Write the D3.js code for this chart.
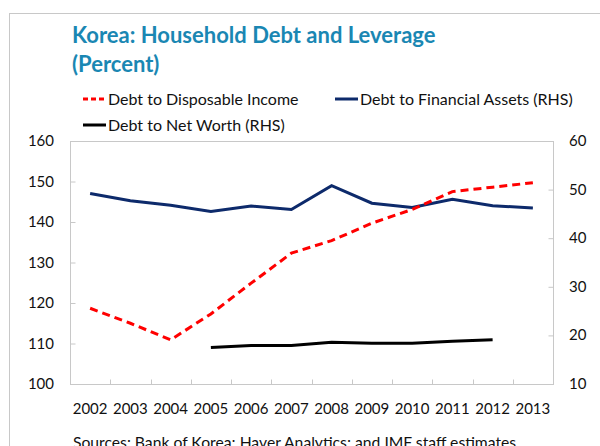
<!DOCTYPE html>
<html>
<head>
<meta charset="utf-8">
<script src="https://cdn.jsdelivr.net/npm/d3@7"></script>
<style>
  body { margin: 0; background: #fff; }
  svg { font-family: Lato, "Open Sans", sans-serif; }
</style>
</head>
<body>
<div id="viz"></div>
<script>
var years = ["2002","2003","2004","2005","2006","2007","2008","2009","2010","2011","2012","2013"];
var disposableIncome = [118.7, 115.0, 110.9, 117.3, 124.9, 132.3, 135.4, 139.7, 143.1, 147.5, 148.6, 149.7];
var financialAssets = [49.2, 47.7, 46.8, 45.5, 46.6, 45.9, 50.8, 47.2, 46.3, 48.0, 46.7, 46.2];
var netWorth = [null, null, null, 17.5, 17.9, 17.9, 18.6, 18.4, 18.4, 18.8, 19.1, null];
var leftTicks = [100, 110, 120, 130, 140, 150, 160];
var rightTicks = [10, 20, 30, 40, 50, 60];

var width = 600, height = 446;
var plot = {left: 70, right: 553, top: 141, bottom: 384};

var svg = d3.select('#viz').append('svg')
  .attr('width', width)
  .attr('height', height);

// outer frame
svg.append('rect')
  .attr('x', 9.5).attr('y', 13.5)
  .attr('width', 600).attr('height', 500)
  .attr('fill', 'none').attr('stroke', '#c8c8c8');

svg.append('text').attr('x', 72).attr('y', 43)
  .attr('fill', '#1a87b3').attr('font-weight', 'bold').attr('font-size', 22)
  .text('Korea: Household Debt and Leverage');
svg.append('text').attr('x', 72).attr('y', 72)
  .attr('fill', '#1a87b3').attr('font-weight', 'bold').attr('font-size', 22)
  .text('(Percent)');

var x = d3.scaleBand().domain(years).range([plot.left, plot.right]);
var yL = d3.scaleLinear().domain([100, 160]).range([plot.bottom, plot.top]);
var yR = d3.scaleLinear().domain([10, 60]).range([plot.bottom, plot.top]);

// plot border
svg.append('rect')
  .attr('x', plot.left + 0.5).attr('y', plot.top + 0.5)
  .attr('width', plot.right - plot.left).attr('height', plot.bottom - plot.top)
  .attr('fill', 'none').attr('stroke', '#c8c8c8');

// x axis ticks (inward)
var xb = svg.append('g').attr('transform', 'translate(0,' + (plot.bottom + 0.5) + ')');
xb.selectAll('line').data(years.slice(1)).join('line')
  .attr('x1', d => Math.round(x(d)) + 0.5).attr('x2', d => Math.round(x(d)) + 0.5)
  .attr('y1', 0).attr('y2', -5).attr('stroke', '#c8c8c8');
xb.selectAll('text').data(years).join('text')
  .attr('x', d => x(d) + x.bandwidth() / 2).attr('y', 29)
  .attr('text-anchor', 'middle').attr('font-size', 15).attr('fill', '#111')
  .text(d => d);

var yLeftAxis = d3.axisRight(yL).tickValues(leftTicks).tickSize(5).tickFormat('');
svg.append('g').attr('transform', 'translate(' + (plot.left + 0.5) + ',0)')
  .call(yLeftAxis)
  .call(g => g.select('.domain').remove())
  .call(g => g.selectAll('line').attr('stroke', '#c8c8c8'));
svg.append('g').selectAll('text').data(leftTicks).join('text')
  .attr('x', 54).attr('y', d => yL(d) + 5)
  .attr('text-anchor', 'end').attr('font-size', 15).attr('fill', '#111')
  .text(d => d);

var yRightAxis = d3.axisLeft(yR).tickValues(rightTicks).tickSize(5).tickFormat('');
svg.append('g').attr('transform', 'translate(' + (plot.right + 0.5) + ',0)')
  .call(yRightAxis)
  .call(g => g.select('.domain').remove())
  .call(g => g.selectAll('line').attr('stroke', '#c8c8c8'));
svg.append('g').selectAll('text').data(rightTicks).join('text')
  .attr('x', 569).attr('y', d => yR(d) + 5)
  .attr('text-anchor', 'start').attr('font-size', 15).attr('fill', '#111')
  .text(d => d);

var cx = i => x(years[i]) + x.bandwidth() / 2;

var lineL = d3.line().defined(d => d != null).x((d, i) => cx(i)).y(d => yL(d));
var lineR = d3.line().defined(d => d != null).x((d, i) => cx(i)).y(d => yR(d));

svg.append('path').datum(financialAssets)
  .attr('d', lineR).attr('fill', 'none')
  .attr('stroke', '#0d2a6b').attr('stroke-width', 3);
svg.append('path').datum(netWorth)
  .attr('d', lineR).attr('fill', 'none')
  .attr('stroke', '#000').attr('stroke-width', 3);
svg.append('path').datum(disposableIncome)
  .attr('d', lineL).attr('fill', 'none')
  .attr('stroke', '#f00').attr('stroke-width', 3)
  .attr('stroke-dasharray', '8,5');

// legend
var legendItems = [
  {label: 'Debt to Disposable Income', color: '#f00', dash: '5,3', x: 83, y: 99},
  {label: 'Debt to Financial Assets (RHS)', color: '#0d2a6b', dash: null, x: 335, y: 99},
  {label: 'Debt to Net Worth (RHS)', color: '#000', dash: null, x: 83, y: 125}
];
var legend = svg.append('g');
legendItems.forEach(function(it) {
  legend.append('line')
    .attr('x1', it.x).attr('x2', it.x + 23)
    .attr('y1', it.y).attr('y2', it.y)
    .attr('stroke', it.color).attr('stroke-width', 3)
    .attr('stroke-dasharray', it.dash);
  legend.append('text')
    .attr('x', it.x + 25).attr('y', it.y + 6)
    .attr('font-size', 16).attr('fill', '#111')
    .text(it.label);
});

svg.append('text').attr('x', 73).attr('y', 448)
  .attr('font-size', 15.7).attr('fill', '#111')
  .text('Sources: Bank of Korea; Haver Analytics; and IMF staff estimates.');
</script>
</body>
</html>
